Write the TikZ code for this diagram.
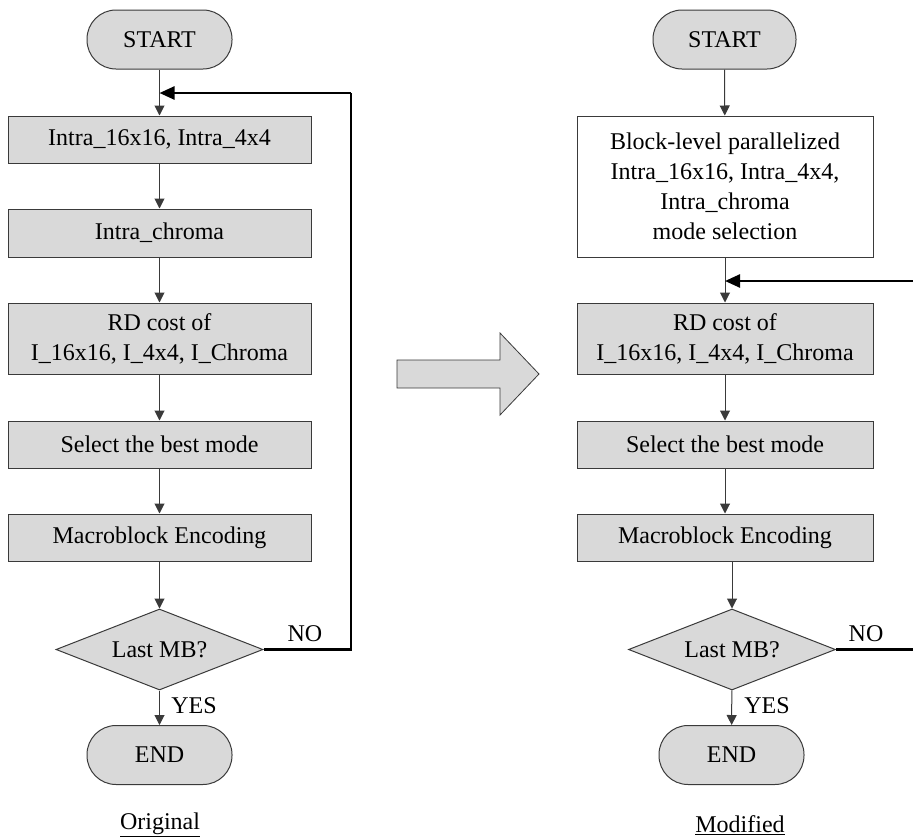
\documentclass[tikz,border=0pt]{standalone}
\usepackage{fontspec}
\setmainfont{Liberation Serif}
\usetikzlibrary{arrows.meta,shapes.geometric}
\definecolor{boxfill}{HTML}{D9D9D9}
\definecolor{edge}{HTML}{3A3A3A}
\begin{document}
\begin{tikzpicture}[x=1pt,y=-1pt,
  every node/.style={font=\fontsize{24}{30}\selectfont, text=black},
  gbox/.style={draw=edge, fill=boxfill, line width=1pt, rectangle, inner sep=0pt, align=center},
  wbox/.style={draw=edge, fill=white, line width=1pt, rectangle, inner sep=0pt, align=center},
  term/.style={draw=edge, fill=boxfill, line width=1pt, rectangle, rounded corners=29pt, inner sep=0pt, minimum height=59pt},
  dec/.style={draw=edge, fill=boxfill, line width=1pt, diamond, aspect=2.55, inner sep=0pt, minimum width=207pt, minimum height=81pt},
  flow/.style={draw=edge, line width=1pt, -{Triangle[width=10pt,length=10pt]}},
  loopline/.style={draw=black, line width=2.5pt},
  looparrow/.style={draw=black, line width=2.5pt, -{Triangle[width=13pt,length=15pt]}},
  lbl/.style={inner sep=0pt}
]
\useasboundingbox (0,0) rectangle (913,838);
% ---------- Left (Original) ----------
\node[term, minimum width=145pt] (sL) at (159.5,39.5) {START};
\node[gbox, minimum width=303pt, minimum height=47pt] (b1L) at (159.5,139.5) {Intra\_16x16, Intra\_4x4};
\node[gbox, minimum width=303pt, minimum height=48pt] (b2L) at (159.5,233) {Intra\_chroma};
\node[gbox, minimum width=303pt, minimum height=71pt] (b3L) at (159.5,338.5) {RD cost of\\I\_16x16, I\_4x4, I\_Chroma};
\node[gbox, minimum width=303pt, minimum height=47pt] (b4L) at (159.5,444.5) {Select the best mode};
\node[gbox, minimum width=303pt, minimum height=47pt] (b5L) at (159.5,537.5) {Macroblock Encoding};
\node[dec] (dL) at (159.5,649.5) {Last MB?};
\node[term, minimum width=145pt] (eL) at (159.5,755) {END};
\coordinate (jL) at (159.5,93);
\coordinate (lpL) at (351,93);
\draw[flow] (sL) -- (b1L);
\draw[flow] (b1L) -- (b2L);
\draw[flow] (b2L) -- (b3L);
\draw[flow] (b3L) -- (b4L);
\draw[flow] (b4L) -- (b5L);
\draw[flow] (b5L) -- (dL);
\draw[flow] (dL) -- (eL);
\draw[loopline] (dL.east) -| (lpL);
\draw[looparrow] (lpL) -- (jL);
\node[lbl] (noL) at (305,634) {NO};
\node[lbl] (yesL) at (194,706) {YES};
\node[lbl] (capL) at (160,825) {\underline{Original}};
% ---------- Big arrow ----------
\draw[draw=edge, fill=boxfill, line width=0.8pt] (397,360) -- (500,360) -- (500,333) -- (539,374) -- (500,415) -- (500,388) -- (397,388) -- cycle;
% ---------- Right (Modified) ----------
\node[term, minimum width=143pt] (sR) at (724.5,39.5) {START};
\node[wbox, minimum width=296pt, minimum height=141pt] (b1R) at (725,186.5) {Block-level parallelized\\Intra\_16x16, Intra\_4x4,\\Intra\_chroma\\mode selection};
\node[gbox, minimum width=296pt, minimum height=71pt] (b3R) at (725,338.5) {RD cost of\\I\_16x16, I\_4x4, I\_Chroma};
\node[gbox, minimum width=296pt, minimum height=47pt] (b4R) at (725,444.5) {Select the best mode};
\node[gbox, minimum width=296pt, minimum height=47pt] (b5R) at (725,537.5) {Macroblock Encoding};
\node[dec] (dR) at (732,649.5) {Last MB?};
\node[term, minimum width=145pt] (eR) at (731.5,755) {END};
\coordinate (jR) at (725,281);
\coordinate (edgeT) at (913,281);
\coordinate (edgeB) at (913,649.5);
\draw[flow] (sR) -- (b1R);
\draw[flow] (b1R) -- (b3R);
\draw[flow] (b3R) -- (b4R);
\draw[flow] (b4R) -- (b5R);
\draw[flow] (b5R.south -| dR.north) -- (dR);
\draw[flow] (dR) -- (eR);
\draw[loopline] (dR.east) -- (edgeB);
\draw[looparrow] (edgeT) -- (jR);
\node[lbl] (noR) at (866,634) {NO};
\node[lbl] (yesR) at (767,706) {YES};
\node[lbl] (capR) at (740,825) {\underline{Modified}};
\end{tikzpicture}
\end{document}
